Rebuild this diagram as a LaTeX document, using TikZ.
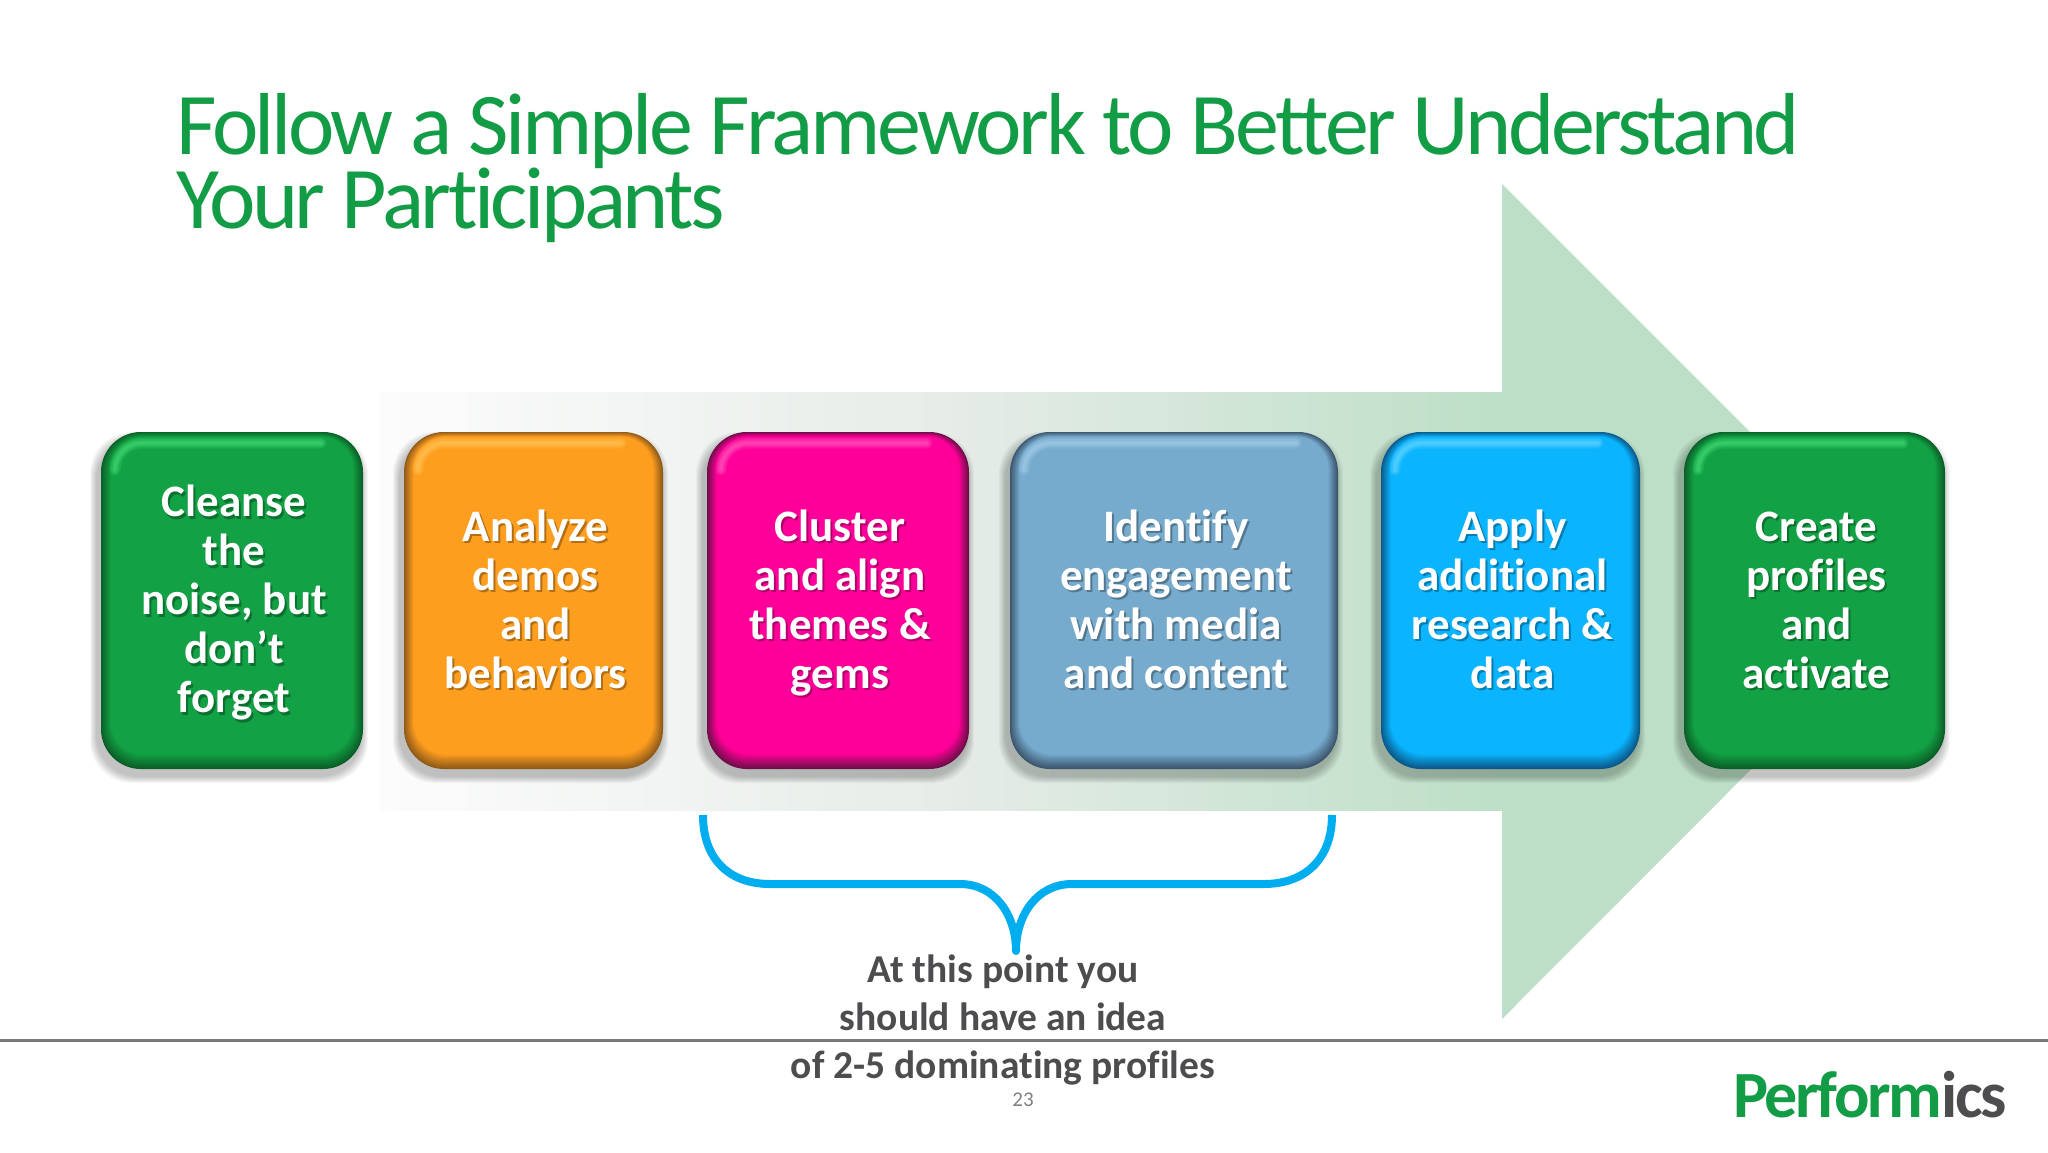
\documentclass[tikz,border=0pt]{standalone}
\usepackage{fontspec}
\setmainfont{Carlito}
\newfontfamily\carlito[Ligatures=NoCommon]{Carlito}
\newfontfamily\titlefont[LetterSpace=-3.9,Ligatures=NoCommon]{Carlito}
\newfontfamily\logofont[LetterSpace=-3.7,Ligatures=NoCommon]{Carlito}
\definecolor{pfgreen}{HTML}{129C45}
\definecolor{pfgrey}{HTML}{4D4D4F}
\definecolor{arrowgreen}{HTML}{BDDFC7}
\definecolor{bracecyan}{HTML}{00AEEF}
\definecolor{gm}{HTML}{12A144}\definecolor{gd}{HTML}{0A5F28}\definecolor{gl}{HTML}{45DE78}
\definecolor{om}{HTML}{FF9E1F}\definecolor{od}{HTML}{8F5A18}\definecolor{ol}{HTML}{FFC65A}
\definecolor{mm}{HTML}{FF0099}\definecolor{md}{HTML}{6E0E48}\definecolor{ml}{HTML}{FF5CBE}
\definecolor{bm}{HTML}{76ABCD}\definecolor{bd}{HTML}{3C566E}\definecolor{bl}{HTML}{A5CFE8}
\definecolor{cm}{HTML}{0AB4FF}\definecolor{cd}{HTML}{0A5888}\definecolor{cl}{HTML}{6AD8FF}
\tikzset{
  x=1pt,y=-1pt,
  cardtext/.style={font=\carlito\bfseries\fontsize{45}{49}\selectfont,align=center,text=white,inner sep=0pt},
  cardshadow/.style={font=\carlito\bfseries\fontsize{45}{49}\selectfont,align=center,text=black,text opacity=.3,inner sep=0pt},
  titletext/.style={font=\titlefont\fontsize{88}{75}\selectfont,text=pfgreen,inner sep=0pt,anchor=base west},
  notetext/.style={font=\carlito\bfseries\fontsize{39.5}{48}\selectfont,text=pfgrey,align=center,inner sep=0pt},
}
% #1 name, #2 left, #3 right, #4 main, #5 dark, #6 light, #7 text
\newcommand{\stepcard}[7]{
  \foreach \s in {0,...,6}{
    \fill[black,opacity=.035,rounded corners=42]
      ({#2-5-\s},{432+6-\s}) rectangle ({#3-1+\s},{769+8+\s});
  }
  \foreach \i in {0,...,12}{
    \pgfmathsetmacro{\p}{100-\i*8.3}
    \fill[#5!\p!#4,rounded corners={40-\i*.6}]
      ({#2+\i*.8},{432+\i*.4}) rectangle ({#3-\i*.8},{769-\i*1.2});
  }
  \foreach \w/\o in {11/.2,8/.24,5/.3,2.5/.3}{
    \draw[#6,line width=\w,line cap=round,opacity=\o]
      ({#2+14},{432+38}) arc[start angle=180,end angle=90,x radius=27,y radius=-27] -- ({#3-42},{432+11});
  }
  \node[cardshadow] (#1shadow) at ({(#2+#3)/2+4},{605+2.5}) {\strut #7\strut};
  \node[cardtext] (#1) at ({(#2+#3)/2+2},605) {\strut #7\strut};
}
\begin{document}
\begin{tikzpicture}
\useasboundingbox (0,0) rectangle (2048,1152);
\fill[white] (0,0) rectangle (2048,1152);
% big arrow
\definecolor{arrowstart}{HTML}{FCFCFC}
\definecolor{arrowmid}{HTML}{E6ECE8}
\shade[left color=arrowstart,right color=arrowgreen,middle color=arrowmid]
  (380,392) rectangle (1503,810);
\fill[arrowgreen] (1502,392) -- (1502,184) -- (1919,601) -- (1502,1019) -- (1502,810) -- cycle;
% title
\node[titletext] (title1) at (176,154) {Follow a Simple Framework to Better Understand};
\node[titletext] (title2) at (176,228) {Your Participants};
% cards
\stepcard{cleanse}{101}{363}{gm}{gd}{gl}{Cleanse\\the\\noise, but\\don’t\\forget}
\stepcard{analyze}{404}{663}{om}{od}{ol}{Analyze\\demos\\and\\behaviors}
\stepcard{cluster}{707}{969}{mm}{md}{ml}{Cluster\\and align\\themes \&\\gems}
\stepcard{identify}{1010}{1338}{bm}{bd}{bl}{Identify\\engagement\\with media\\and content}
\stepcard{apply}{1381}{1640}{cm}{cd}{cl}{Apply\\additional\\research \&\\data}
\stepcard{create}{1684}{1945}{gm}{gd}{gl}{Create\\profiles\\and\\activate}
% brace
\draw[bracecyan,line width=8]
  (703,815) .. controls (703,860) and (730,884) .. (770,884) -- (960,884)
  .. controls (995,884) and (1016,915) .. (1016,951)
  .. controls (1016,915) and (1037,884) .. (1072,884) -- (1264,884)
  .. controls (1304,884) and (1332,860) .. (1332,815);
\fill[bracecyan] (1016,951) circle[radius=4];
% footer rule
\draw[line width=3,color=black!52] (0,1040) -- (2048,1040);
% note
\node[notetext] (note) at (1003,1020) {At this point you\\should have an idea\\of 2-5 dominating profiles};
\node[font=\carlito\fontsize{21}{24}\selectfont,text=black!50,inner sep=0pt] (page) at (1023,1100) {23};
\node[font=\logofont\bfseries\fontsize{66}{70}\selectfont,inner sep=0pt,anchor=base west] (logo) at (1733,1117)
  {\textcolor{pfgreen}{Perform}\textcolor{pfgrey}{ics}};
\end{tikzpicture}
\end{document}
